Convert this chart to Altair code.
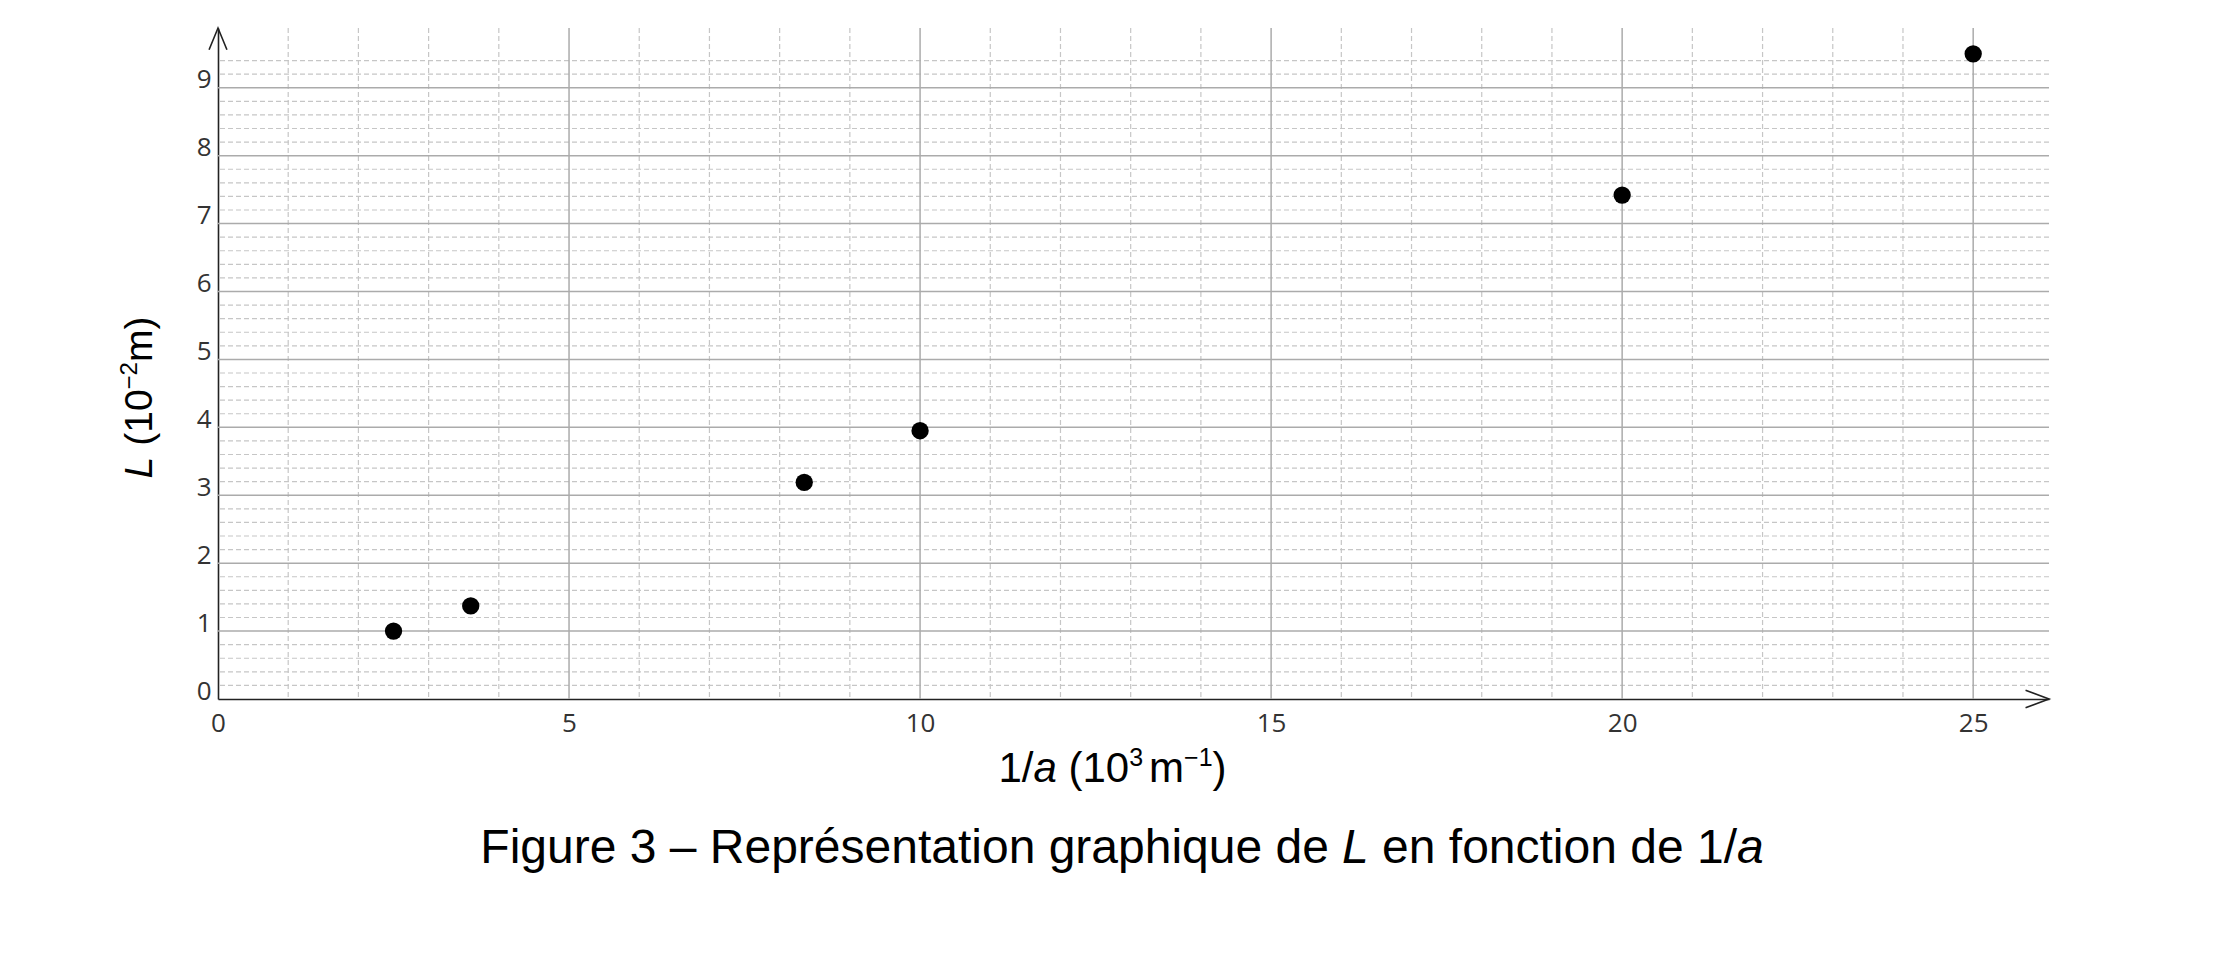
import altair as alt
import pandas as pd

# ---------------- data ----------------
inv_a = [2.5, 3.6, 8.35, 10.0, 20.0, 25.0]          # 1/a (10^3 m^-1)
L_vals = [1.0, 1.37, 3.19, 3.95, 7.42, 9.5]         # L (10^-2 m)

x_major = [5, 10, 15, 20, 25]
x_minor = [v for v in range(1, 25) if v % 5 != 0]
y_major = [1, 2, 3, 4, 5, 6, 7, 8, 9]
y_minor = [round(i * 0.2, 1) for i in range(1, 48) if i % 5 != 0]

x_ticks = [0, 5, 10, 15, 20, 25]
y_ticks = [0, 1, 2, 3, 4, 5, 6, 7, 8, 9]

X_MAX = 26.08
Y_MAX = 9.88
W, H = 1831, 671

xs = alt.Scale(domain=[0, X_MAX], nice=False, zero=False)
ys = alt.Scale(domain=[0, Y_MAX], nice=False, zero=False)

TITLE_FONT = "Liberation Sans"
TICK_FONT = "Open Sans"

XAX = alt.Axis(values=x_ticks, grid=False, ticks=False, labelFlush=False,
               labelOverlap=False, labelFont=TICK_FONT, labelFontSize=26,
               labelColor="#333333", labelPadding=11, domainColor="#222222",
               domainWidth=1.6, title=None)
YAX = alt.Axis(values=y_ticks, grid=False, ticks=False, labelFlush=False,
               labelOverlap=False, labelFont=TICK_FONT, labelFontSize=26,
               labelColor="#333333", labelPadding=7, labelBaseline="alphabetic",
               domainColor="#222222", domainWidth=1.6, title=None)

# Arial / Liberation Sans advance widths (per 1000 em)
AW = {
    'F': 611, 'i': 222, 'g': 556, 'u': 556, 'r': 333, 'e': 556, ' ': 278,
    '0': 556, '1': 556, '2': 556, '3': 556, '–': 556, 'R': 722, 'p': 556,
    'é': 556, 's': 500, 'n': 556, 't': 278, 'a': 556, 'o': 556, 'h': 556,
    'q': 556, 'd': 556, 'L': 556, 'f': 278, 'c': 500, '/': 278, '(': 333,
    ')': 333, 'm': 833, '−': 584,
}


def tw(s, size):
    return sum(AW.get(c, 556) for c in s) * size / 1000.0


def seg_layers(tokens, cx, base, vertical=False):
    """tokens: (text, size, italic, raise) ; text None means a gap of width `size` px."""
    widths = []
    for t, size, it, rs in tokens:
        widths.append(size if t is None else tw(t, size))
    total = sum(widths)
    layers = []
    off = 0.0
    for (t, size, it, rs), w in zip(tokens, widths):
        if t is not None:
            if not vertical:
                px, py, ang = cx - total / 2 + off, base - rs, 0
            else:
                px, py, ang = base - rs, cx + total / 2 - off, 270
            layers.append(
                alt.Chart(pd.DataFrame({"t": [t]}))
                .mark_text(align="left", baseline="alphabetic", font=TITLE_FONT,
                           fontSize=size, fontStyle="italic" if it else "normal",
                           color="#000000", angle=ang)
                .encode(x=alt.value(px), y=alt.value(py), text="t:N")
            )
        off += w
    return layers


# ---------------- points with axes ----------------
pts = alt.Chart(pd.DataFrame({"x": inv_a, "y": L_vals})).mark_point(
    shape="circle", filled=True, color="#000000", opacity=1, size=300).encode(
    x=alt.X("x:Q", scale=xs, axis=XAX),
    y=alt.Y("y:Q", scale=ys, axis=YAX),
)

# ---------------- grid ----------------
dash = [5, 3]
g_minor_y = alt.Chart(pd.DataFrame({"v": y_minor})).mark_rule(
    color="#c6c6c6", strokeWidth=1.2, strokeDash=dash).encode(
    y=alt.Y("v:Q", scale=ys, axis=YAX))
g_minor_x = alt.Chart(pd.DataFrame({"v": x_minor})).mark_rule(
    color="#c6c6c6", strokeWidth=1.2, strokeDash=dash).encode(
    x=alt.X("v:Q", scale=xs, axis=XAX))
g_major_y = alt.Chart(pd.DataFrame({"v": y_major})).mark_rule(
    color="#ababab", strokeWidth=1.5).encode(
    y=alt.Y("v:Q", scale=ys, axis=YAX))
g_major_x = alt.Chart(pd.DataFrame({"v": x_major})).mark_rule(
    color="#ababab", strokeWidth=1.5).encode(
    x=alt.X("v:Q", scale=xs, axis=XAX))

# ---------------- axis arrows ----------------
arrow_y = alt.Chart(pd.DataFrame({"x": [0], "y": [Y_MAX]})).mark_point(
    shape="M-0.41,1L0,0L0.41,1", filled=False, color="#222222", strokeWidth=1.6,
    size=1900, opacity=1).encode(x=alt.X("x:Q", scale=xs, axis=XAX),
                                 y=alt.Y("y:Q", scale=ys, axis=YAX))
arrow_x = alt.Chart(pd.DataFrame({"x": [X_MAX], "y": [0]})).mark_point(
    shape="M-1,-0.37L0,0L-1,0.37", filled=False, color="#222222", strokeWidth=1.6,
    size=2200, opacity=1).encode(x=alt.X("x:Q", scale=xs, axis=XAX),
                                 y=alt.Y("y:Q", scale=ys, axis=YAX))

# ---------------- titles (mixed styles) ----------------
xt = seg_layers([
    ("1/", 42, False, 0), ("a", 42, True, 0), (None, 11.7, False, 0),
    ("(10", 42, False, 0), ("3", 25, False, 16), (None, 6, False, 0),
    ("m", 42, False, 0), ("−1", 25, False, 16), (")", 42, False, 0),
], cx=894.5, base=754)

yt = seg_layers([
    ("L", 39, True, 0), (None, 11, False, 0), ("(10", 39, False, 0),
    ("−2", 24, False, 15), ("m)", 39, False, 0),
], cx=369.5, base=-66, vertical=True)

cap = seg_layers([
    ("Figure 3 – Représentation graphique de", 48, False, 0), (None, 13.3, False, 0),
    ("L", 48, True, 0), (None, 13.3, False, 0),
    ("en fonction de 1/", 48, False, 0), ("a", 48, True, 0),
], cx=904, base=835)

chart = alt.layer(
    g_minor_y, g_minor_x, g_major_y, g_major_x, pts, arrow_y, arrow_x, *xt, *yt, *cap
).properties(
    width=W, height=H,
    autosize=alt.AutoSizeParams(type="none"),
    padding={"left": 210, "top": 20, "right": 100, "bottom": 250},
    background="#ffffff",
).configure_view(stroke=None)

chart.save("out.html", embed_options={"renderer": "svg", "actions": False})
